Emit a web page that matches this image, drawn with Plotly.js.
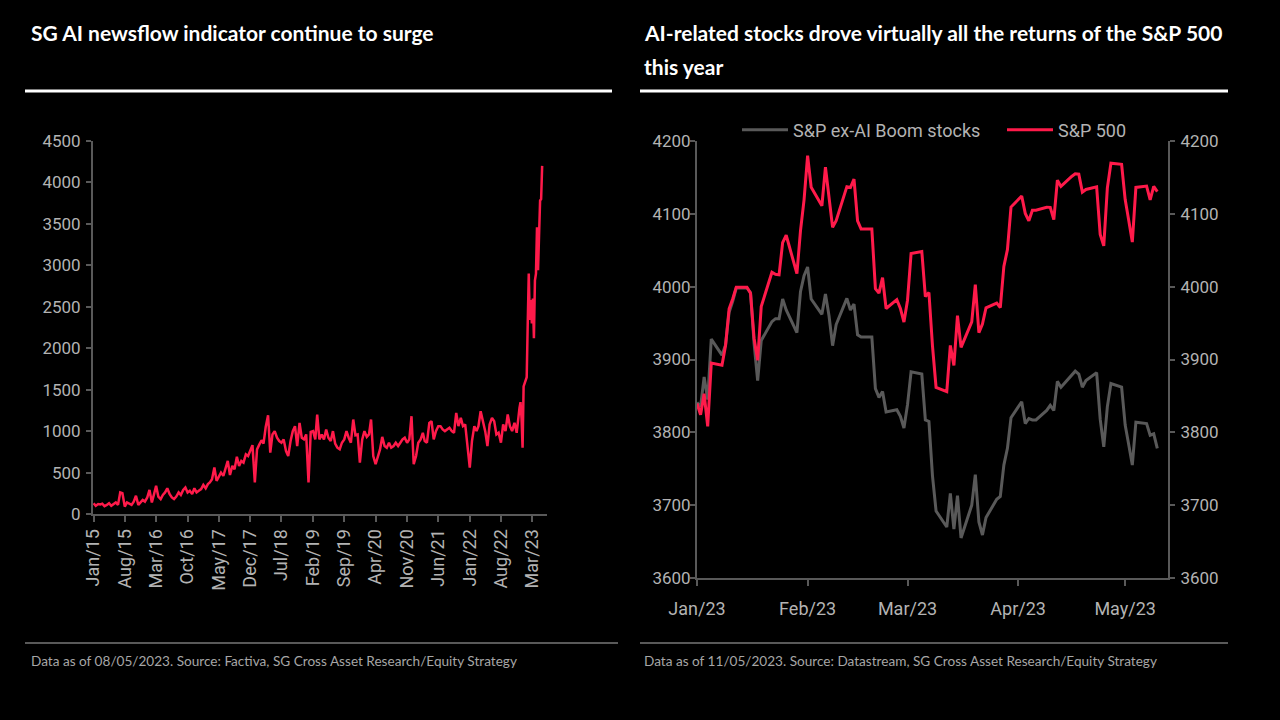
<!DOCTYPE html>
<html>
<head>
<meta charset="utf-8">
<script src="https://cdn.plot.ly/plotly-3.0.1.min.js"></script>
<style>
html,body{margin:0;padding:0;background:#000;}
#chart{width:1280px;height:720px;}
</style>
</head>
<body>
<div id="chart"></div>
<script>
// ---------- Left chart: SG AI newsflow indicator ----------
const newsDates = [
'2015-01-01','2015-01-16','2015-02-01','2015-02-16','2015-03-01','2015-03-16','2015-04-01','2015-04-16','2015-05-01','2015-05-16','2015-06-01','2015-06-16','2015-07-01','2015-07-16','2015-08-01','2015-08-16','2015-09-01','2015-09-16','2015-10-01','2015-10-16','2015-11-01','2015-11-16','2015-12-01','2015-12-16',
'2016-01-01','2016-01-16','2016-02-01','2016-02-16','2016-03-01','2016-03-16','2016-04-01','2016-04-16','2016-05-01','2016-05-16','2016-06-01','2016-06-16','2016-07-01','2016-07-16','2016-08-01','2016-08-16','2016-09-01','2016-09-16','2016-10-01','2016-10-16','2016-11-01','2016-11-16','2016-12-01','2016-12-16',
'2017-01-01','2017-01-16','2017-02-01','2017-02-16','2017-03-01','2017-03-16','2017-04-01','2017-04-16','2017-05-01','2017-05-16','2017-06-01','2017-06-16','2017-07-01','2017-07-16','2017-08-01','2017-08-16','2017-09-01','2017-09-16','2017-10-01','2017-10-16','2017-11-01','2017-11-16','2017-12-01','2017-12-16',
'2018-01-01','2018-01-16','2018-02-01','2018-02-16','2018-03-01','2018-03-16','2018-04-01','2018-04-16','2018-05-01','2018-05-16','2018-06-01','2018-06-16','2018-07-01','2018-07-16','2018-08-01','2018-08-16','2018-09-01','2018-09-16','2018-10-01','2018-10-16','2018-11-01','2018-11-16','2018-12-01','2018-12-16',
'2019-01-01','2019-01-16','2019-02-01','2019-02-16','2019-03-01','2019-03-16','2019-04-01','2019-04-16','2019-05-01','2019-05-16','2019-06-01','2019-06-16','2019-07-01','2019-07-16','2019-08-01','2019-08-16','2019-09-01','2019-09-16','2019-10-01','2019-10-16','2019-11-01','2019-11-16','2019-12-01','2019-12-16',
'2020-01-01','2020-01-16','2020-02-01','2020-02-16','2020-03-01','2020-03-16','2020-04-01','2020-04-16','2020-05-01','2020-05-16','2020-06-01','2020-06-16','2020-07-01','2020-07-16','2020-08-01','2020-08-16','2020-09-01','2020-09-16','2020-10-01','2020-10-16','2020-11-01','2020-11-16','2020-12-01','2020-12-16',
'2021-01-01','2021-01-16','2021-02-01','2021-02-16','2021-03-01','2021-03-16','2021-04-01','2021-04-16','2021-05-01','2021-05-16','2021-06-01','2021-06-16','2021-07-01','2021-07-16','2021-08-01','2021-08-16','2021-09-01','2021-09-16','2021-10-01','2021-10-16','2021-11-01','2021-11-16','2021-12-01','2021-12-16',
'2022-01-01','2022-01-16','2022-02-01','2022-02-16','2022-03-01','2022-03-16','2022-04-01','2022-04-16','2022-05-01','2022-05-16','2022-06-01','2022-06-16','2022-07-01','2022-07-16','2022-08-01','2022-08-16','2022-09-01','2022-09-16','2022-10-01','2022-10-16','2022-11-01','2022-11-16',
'2022-12-05','2022-12-12','2022-12-19','2022-12-26','2023-01-02','2023-01-09','2023-01-16','2023-01-23','2023-01-30','2023-02-06','2023-02-13','2023-02-20','2023-02-27','2023-03-06','2023-03-13','2023-03-20','2023-03-27','2023-04-03','2023-04-10','2023-04-17','2023-04-24','2023-05-01','2023-05-08'
];
const newsValues = [
130,100,120,115,125,95,110,130,100,125,140,110,260,250,90,140,120,110,150,220,110,140,170,150,
200,290,140,240,340,210,180,230,260,310,240,200,180,210,260,230,290,320,260,280,240,310,260,280,
300,350,310,360,380,420,560,400,450,500,460,560,640,470,580,540,690,580,640,620,720,700,770,830,
380,780,840,890,850,1050,1190,740,960,1000,920,880,860,900,760,700,880,1000,1060,820,1100,920,900,960,
380,990,1000,900,1200,900,960,900,1020,920,880,1000,850,800,780,860,900,1000,920,860,1140,950,960,620,
900,1000,930,960,1140,700,600,700,780,930,820,800,860,800,820,860,820,860,900,920,860,900,1180,600,
700,860,900,980,880,860,1100,1120,900,1000,1060,1060,1020,1000,1020,1040,1000,980,1220,1060,1160,1060,1080,820,
560,880,1060,1000,1060,1240,1120,1000,820,1080,1160,1120,960,980,860,1080,1000,1200,1060,1000,1100,980,
1280,1350,1150,800,1540,1580,1620,1650,2300,2900,2340,2580,2300,2600,2120,2820,2900,3460,2940,3500,3780,3800,4200
];
const leftTickDates = ['2015-01-01','2015-08-01','2016-03-01','2016-10-01','2017-05-01','2017-12-01','2018-07-01','2019-02-01','2019-09-01','2020-04-01','2020-11-01','2021-06-01','2022-01-01','2022-08-01','2023-03-01'];
const leftTickLabels = ['Jan/15','Aug/15','Mar/16','Oct/16','May/17','Dec/17','Jul/18','Feb/19','Sep/19','Apr/20','Nov/20','Jun/21','Jan/22','Aug/22','Mar/23'];

// ---------- Right chart: S&P 500 vs S&P ex-AI Boom stocks ----------
const spDates = [
'2023-01-02','2023-01-03','2023-01-04','2023-01-05','2023-01-06','2023-01-09','2023-01-10','2023-01-11','2023-01-12','2023-01-13','2023-01-16','2023-01-17','2023-01-18','2023-01-19','2023-01-20','2023-01-23','2023-01-24','2023-01-25','2023-01-26','2023-01-27','2023-01-30','2023-01-31',
'2023-02-01','2023-02-02','2023-02-03','2023-02-06','2023-02-07','2023-02-08','2023-02-09','2023-02-10','2023-02-13','2023-02-14','2023-02-15','2023-02-16','2023-02-17','2023-02-20','2023-02-21','2023-02-22','2023-02-23','2023-02-24','2023-02-27','2023-02-28',
'2023-03-01','2023-03-02','2023-03-03','2023-03-06','2023-03-07','2023-03-08','2023-03-09','2023-03-10','2023-03-13','2023-03-14','2023-03-15','2023-03-16','2023-03-17','2023-03-20','2023-03-21','2023-03-22','2023-03-23','2023-03-24','2023-03-27','2023-03-28','2023-03-29','2023-03-30','2023-03-31',
'2023-04-03','2023-04-04','2023-04-05','2023-04-06','2023-04-07','2023-04-10','2023-04-11','2023-04-12','2023-04-13','2023-04-14','2023-04-17','2023-04-18','2023-04-19','2023-04-20','2023-04-21','2023-04-24','2023-04-25','2023-04-26','2023-04-27','2023-04-28',
'2023-05-01','2023-05-02','2023-05-03','2023-05-04','2023-05-05','2023-05-08','2023-05-09','2023-05-10','2023-05-11'
];
const sp500 = [
3839.5,3824.1,3853.0,3808.1,3895.1,3892.1,3919.3,3969.6,3983.2,3999.1,3999.1,3991.0,3928.9,3898.9,3972.6,4019.8,4017.0,4016.2,4060.4,4070.6,4017.8,4076.6,
4119.2,4179.8,4136.5,4111.1,4164.0,4117.9,4081.5,4090.5,4137.3,4136.1,4147.6,4090.4,4079.1,4079.1,3997.3,3991.1,4012.3,3970.0,3982.2,3970.2,
3951.4,3981.4,4045.6,4048.4,3986.4,3992.0,3918.3,3861.6,3855.8,3919.3,3891.9,3960.3,3916.6,3951.6,4002.9,3937.0,3948.7,3971.0,3977.5,3971.3,4027.8,4050.8,4109.3,
4124.5,4100.6,4090.4,4105.0,4105.0,4109.1,4108.9,4092.0,4146.2,4137.6,4151.3,4154.9,4154.5,4129.8,4133.5,4137.0,4071.6,4056.0,4135.4,4169.5,
4167.9,4119.6,4090.8,4061.2,4136.3,4138.1,4119.2,4137.6,4130.6
];
const spExAI = [
3841,3835,3876,3845,3928,3906,3920,3965,3980,3998,3998,3992,3922,3871,3926,3952,3956,3956,3983,3968,3937,3993,
4015,4027,3983,3962,3990,3960,3919,3948,3984,3968,3976,3934,3931,3931,3860,3848,3856,3828,3831,3822,
3806,3838,3883,3880,3817,3815,3740,3692,3670,3716,3667,3713,3655,3700,3742,3677,3659,3683,3708,3712,3755,3778,3820,
3842,3812,3819,3817,3817,3830,3837,3830,3870,3862,3879,3884,3880,3862,3871,3882,3818,3780,3835,3867,
3862,3810,3783,3755,3814,3812,3796,3798,3778
];
const rightTickDates = ['2023-01-02','2023-02-02','2023-03-02','2023-04-02','2023-05-02'];
const rightTickLabels = ['Jan/23','Feb/23','Mar/23','Apr/23','May/23'];
const seriesNames = ['S&P ex-AI Boom stocks','S&P 500'];

// ---------- Texts ----------
const leftTitle = 'SG AI newsflow indicator continue to surge';
const rightTitle1 = 'AI-related stocks drove virtually all the returns of the S&P 500';
const rightTitle2 = 'this year';
const leftNote = 'Data as of 08/05/2023. Source: Factiva, SG Cross Asset Research/Equity Strategy';
const rightNote = 'Data as of 11/05/2023. Source: Datastream, SG Cross Asset Research/Equity Strategy';

// ---------- Styling ----------
const W = 1280, H = 720;
const px = v => v / W;
const py = v => 1 - v / H;
const TICKFAM = 'Roboto, "DejaVu Sans Condensed", sans-serif';
const TITLEFAM = 'Lato, "Noto Sans", sans-serif';
const RED = '#ff1a4a';
const GREY_LINE = '#595959';
const AXIS = '#595959';
const TICKTXT = '#b3b3b3';
const tickFont = {family: TICKFAM, size: 17, color: TICKTXT};

const baseAxis = {
  showgrid: false, zeroline: false, showline: true, linecolor: AXIS, linewidth: 2,
  ticks: 'outside', ticklen: 5, tickwidth: 2, tickcolor: AXIS, tickfont: tickFont,
  fixedrange: true
};

const traces = [
  {x: newsDates, y: newsValues, xaxis: 'x', yaxis: 'y', type: 'scatter', mode: 'lines',
   line: {color: RED, width: 2.5}, showlegend: false, hoverinfo: 'skip'},
  {x: spDates, y: spExAI, xaxis: 'x2', yaxis: 'y3', type: 'scatter', mode: 'lines',
   name: seriesNames[0], line: {color: GREY_LINE, width: 3}},
  {x: spDates, y: sp500, xaxis: 'x2', yaxis: 'y4', type: 'scatter', mode: 'lines',
   name: seriesNames[1], line: {color: RED, width: 3}}
];

const layout = {
  width: W, height: H,
  paper_bgcolor: '#000', plot_bgcolor: '#000',
  margin: {l: 0, r: 0, t: 0, b: 0},
  xaxis: Object.assign({}, baseAxis, {
    type: 'date', domain: [px(93), px(547)], range: ['2014-12-28', '2023-06-10'],
    tickvals: leftTickDates, ticktext: leftTickLabels, tickangle: -90, ticklen: 6,
    anchor: 'y', tickfont: {family: TICKFAM, size: 18, color: TICKTXT}
  }),
  yaxis: Object.assign({}, baseAxis, {
    domain: [py(514), py(141)], range: [0, 4500], dtick: 500, tick0: 0, anchor: 'x', side: 'left',
    ticklabelstandoff: 2
  }),
  yaxis2: Object.assign({}, baseAxis, {
    domain: [py(514), py(141)], range: [0, 4500], dtick: 500, tick0: 0, overlaying: 'y', anchor: 'x', side: 'right',
    ticklabelstandoff: 3
  }),
  xaxis2: Object.assign({}, baseAxis, {
    type: 'date', domain: [px(697), px(1168)], range: ['2023-01-02', '2023-05-14'],
    tickvals: rightTickDates, ticktext: rightTickLabels, ticklen: 6, anchor: 'y3',
    ticklabelstandoff: 7, tickfont: {family: TICKFAM, size: 18, color: TICKTXT}
  }),
  yaxis3: Object.assign({}, baseAxis, {
    domain: [py(578), py(141)], range: [3600, 4200], dtick: 100, tick0: 3600, anchor: 'x2', side: 'left',
    ticklabelstandoff: -4
  }),
  yaxis4: Object.assign({}, baseAxis, {
    domain: [py(578), py(141)], range: [3600, 4200], dtick: 100, tick0: 3600, overlaying: 'y3', anchor: 'x2', side: 'right',
    ticklabelstandoff: 2
  }),
  showlegend: true,
  legend: {
    orientation: 'h', x: px(737), xanchor: 'left', y: py(130), yanchor: 'middle',
    bgcolor: 'rgba(0,0,0,0)', font: {family: TICKFAM, size: 18, color: TICKTXT},
    itemwidth: 46, entrywidth: 204, entrywidthmode: 'pixels', itemclick: false, itemdoubleclick: false
  },
  shapes: [
    {type: 'line', xref: 'paper', yref: 'paper', x0: px(25), x1: px(612), y0: py(91), y1: py(91), line: {color: '#ffffff', width: 3}},
    {type: 'line', xref: 'paper', yref: 'paper', x0: px(640), x1: px(1228), y0: py(91), y1: py(91), line: {color: '#ffffff', width: 3}},
    {type: 'line', xref: 'paper', yref: 'paper', x0: px(25), x1: px(618), y0: py(643), y1: py(643), line: {color: '#595959', width: 2}},
    {type: 'line', xref: 'paper', yref: 'paper', x0: px(640), x1: px(1228), y0: py(643), y1: py(643), line: {color: '#595959', width: 2}}
  ],
  annotations: [
    {text: leftTitle, xref: 'paper', yref: 'paper', x: px(29), y: py(33), xanchor: 'left', yanchor: 'middle', showarrow: false,
     font: {family: TITLEFAM, size: 21, color: '#ffffff', weight: 700}},
    {text: rightTitle1, xref: 'paper', yref: 'paper', x: px(642), y: py(33), xanchor: 'left', yanchor: 'middle', showarrow: false,
     font: {family: TITLEFAM, size: 21, color: '#ffffff', weight: 700}},
    {text: rightTitle2, xref: 'paper', yref: 'paper', x: px(642), y: py(66), xanchor: 'left', yanchor: 'middle', showarrow: false,
     font: {family: TITLEFAM, size: 21, color: '#ffffff', weight: 700}},
    {text: leftNote, xref: 'paper', yref: 'paper', x: px(29), y: py(661), xanchor: 'left', yanchor: 'middle', showarrow: false,
     font: {family: TITLEFAM, size: 13.6, color: '#a6a6a6'}},
    {text: rightNote, xref: 'paper', yref: 'paper', x: px(642), y: py(661), xanchor: 'left', yanchor: 'middle', showarrow: false,
     font: {family: TITLEFAM, size: 13.6, color: '#a6a6a6'}}
  ]
};

Plotly.newPlot('chart', traces, layout, {displayModeBar: false, staticPlot: true});
</script>
</body>
</html>
